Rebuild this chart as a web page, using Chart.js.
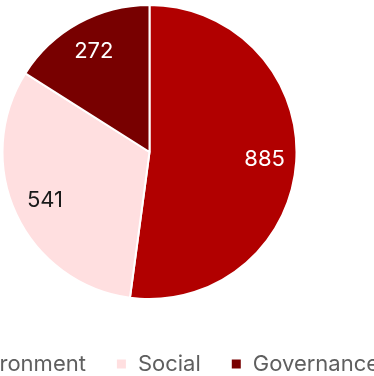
<!DOCTYPE html>
<html>
<head>
<meta charset="utf-8">
<script src="https://cdn.jsdelivr.net/npm/chart.js@4.4.0/dist/chart.umd.min.js"></script>
<style>
  html, body { margin: 0; padding: 0; background: #fff; overflow: hidden; }
  #wrap { position: absolute; left: -138px; top: -19px; width: 600px; height: 404px; }
</style>
</head>
<body>
<div id="wrap"><canvas id="pieChart" width="600" height="404"></canvas></div>
<script>
// ESG pillar counts
const pillars = ['Environment', 'Social', 'Governance'];
const counts = [885, 541, 272];
const sliceColors = ['#b10000', '#ffdfe0', '#780000'];
const valueColors = ['#ffffff', '#1a1a1a', '#ffffff'];

// writes the count inside each slice
const sliceValues = {
  id: 'sliceValues',
  afterDatasetsDraw(chart) {
    const ctx = chart.ctx;
    const meta = chart.getDatasetMeta(0);
    ctx.save();
    ctx.font = '400 22px Inter';
    ctx.textAlign = 'center';
    ctx.textBaseline = 'middle';
    meta.data.forEach((arc, i) => {
      const p = arc.getProps(['x', 'y', 'startAngle', 'endAngle', 'outerRadius'], true);
      const mid = (p.startAngle + p.endAngle) / 2;
      const r = p.outerRadius * 0.785;
      ctx.fillStyle = valueColors[i];
      ctx.fillText(String(counts[i]), p.x + Math.cos(mid) * r, p.y + Math.sin(mid) * r);
    });
    ctx.restore();
  }
};

// legend sits a little right of the pie centre
const legendShift = {
  id: 'legendShift',
  afterLayout(chart) {
    chart.legend.left += 7;
    chart.legend.right += 7;
  }
};

window.addEventListener('load', () => {
  const ctx = document.getElementById('pieChart');
  new Chart(ctx, {
    type: 'pie',
    data: {
      labels: pillars,
      datasets: [{
        data: counts,
        backgroundColor: sliceColors,
        borderColor: '#ffffff',
        borderWidth: 2,
        hoverOffset: 0
      }]
    },
    options: {
      responsive: false,
      animation: false,
      radius: 147,
      layout: { padding: { top: 0, right: 25, bottom: 0, left: 0 } },
      plugins: {
        tooltip: { enabled: false },
        legend: {
          position: 'bottom',
          labels: {
            boxWidth: 11,
            boxHeight: 11,
            padding: 30,
            color: '#5f5f5f',
            font: { family: 'Inter', size: 22 }
          }
        }
      }
    },
    plugins: [sliceValues, legendShift]
  });
});
</script>
</body>
</html>
